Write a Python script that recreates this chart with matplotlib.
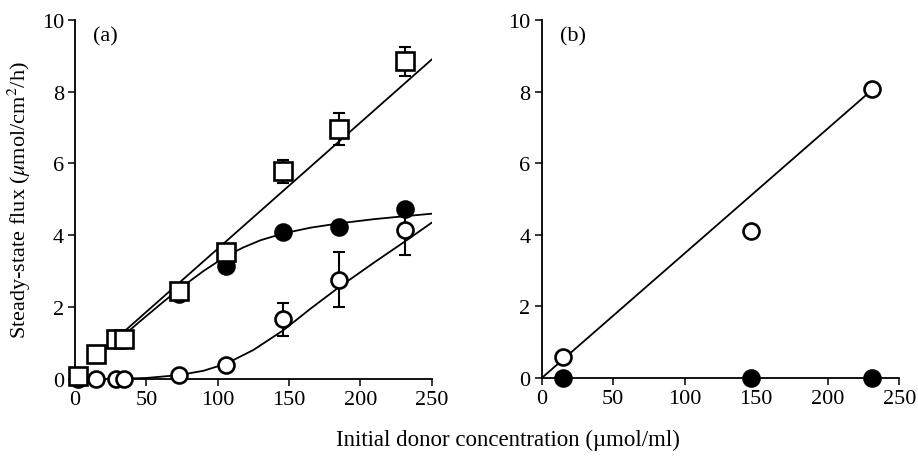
import numpy as np
import matplotlib
matplotlib.use('Agg')
import matplotlib.pyplot as plt

plt.rcParams['font.family'] = ['Liberation Serif', 'DejaVu Serif']
plt.rcParams['mathtext.fontset'] = 'stix'

## panel (a) data
conc_a = [2, 15, 29, 34, 73, 106, 146, 185, 231]
square_a = [0.08, 0.68, 1.1, 1.12, 2.44, 3.54, 5.78, 6.96, 8.85]
square_err = [0, 0, 0, 0, 0, 0, 0.32, 0.45, 0.4]

filled_x = [2, 73, 106, 146, 185, 231]
filled_a = [0.0, 2.35, 3.15, 4.1, 4.22, 4.72]

open_x = [15, 29, 34, 73, 106, 146, 185, 231]
open_a = [0.0, 0.0, 0.0, 0.1, 0.38, 1.66, 2.76, 4.15]
open_err = [0, 0, 0, 0, 0, 0.46, 0.76, 0.7]

sq_fit_x = [34, 250]
sq_fit_y = [1.3, 8.9]
filled_fit_x = [34, 45, 60, 73, 90, 106, 118, 130, 146, 165, 185, 210, 231, 250]
filled_fit_y = [1.2, 1.58, 2.08, 2.5, 3.0, 3.42, 3.66, 3.86, 4.05, 4.21, 4.33, 4.45, 4.53, 4.6]
open_fit_x = [34, 50, 73, 90, 106, 125, 146, 165, 185, 210, 231, 250]
open_fit_y = [0.0, 0.02, 0.1, 0.22, 0.42, 0.8, 1.35, 1.95, 2.55, 3.25, 3.82, 4.35]

## panel (b) data
conc_b = [15, 146, 231]
open_b = [0.6, 4.1, 8.08]
filled_b = [0.0, 0.0, 0.0]
b_fit_x = [0, 231]
b_fit_y = [0.0, 8.05]

xticks = [0, 50, 100, 150, 200, 250]
yticks = [0, 2, 4, 6, 8, 10]


def style_axes(ax, label):
    ax.set_xlim(0, 250)
    ax.set_ylim(0, 10)
    for s in ['top', 'right']:
        ax.spines[s].set_visible(False)
    for s in ['left', 'bottom']:
        ax.spines[s].set_linewidth(1.3)
    ax.set_xticks(xticks)
    ax.set_yticks(yticks)
    ax.tick_params(direction='out', length=5, width=1.1, labelsize=16, pad=3)
    ax.text(0.05, 0.955, label, transform=ax.transAxes, fontsize=16, va='center')


fig = plt.figure(figsize=(9.18, 4.6), dpi=100)
ax_a = fig.add_axes([0.0817, 0.1746, 0.3886, 0.7797])
ax_b = fig.add_axes([0.5901, 0.176, 0.3895, 0.7783])

mk = dict(markersize=11.5, markeredgewidth=1.9, markeredgecolor='black',
          linestyle='none', clip_on=False, zorder=5)

# panel a
ax_a.plot(sq_fit_x, sq_fit_y, color='black', lw=1.3, zorder=2)
ax_a.plot(filled_fit_x, filled_fit_y, color='black', lw=1.3, zorder=2)
ax_a.plot(open_fit_x, open_fit_y, color='black', lw=1.3, zorder=2)

ax_a.errorbar(open_x, open_a, yerr=open_err, fmt='none', ecolor='black',
              elinewidth=1.5, capsize=4, capthick=1.5, zorder=3)
ax_a.errorbar(conc_a, square_a, yerr=square_err, fmt='none', ecolor='black',
              elinewidth=1.5, capsize=4, capthick=1.5, zorder=3)

ax_a.plot(filled_x, filled_a, marker='o', markerfacecolor='black', **mk)
ax_a.plot(open_x, open_a, marker='o', markerfacecolor='white', **mk)
ax_a.plot(conc_a, square_a, marker='s', markerfacecolor='white',
          **{**mk, 'markersize': 12.5, 'zorder': 6})

ax_a.set_ylabel(r'Steady-state flux ($\mu$mol/cm$^2$/h)', fontsize=16, labelpad=6)
style_axes(ax_a, '(a)')

# panel b
ax_b.plot(b_fit_x, b_fit_y, color='black', lw=1.3, zorder=2)
ax_b.plot(conc_b, filled_b, marker='o', markerfacecolor='black', **mk)
ax_b.plot(conc_b, open_b, marker='o', markerfacecolor='white', **mk)
style_axes(ax_b, '(b)')

fig.text(0.553, 0.043, 'Initial donor concentration (\u00b5mol/ml)',
         ha='center', va='center', fontsize=16.5)

fig.savefig('out.png', dpi=100)
